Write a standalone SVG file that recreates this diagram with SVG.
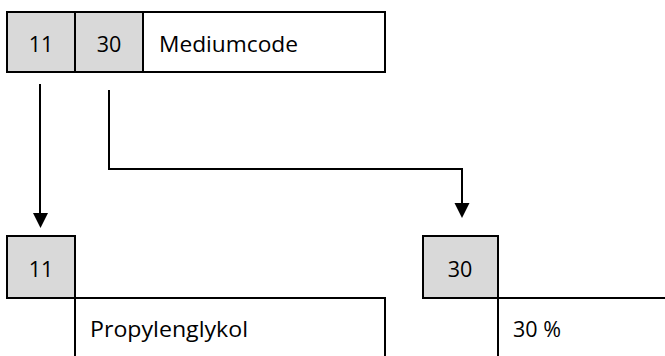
<svg xmlns="http://www.w3.org/2000/svg" width="665" height="356" viewBox="0 0 665 356">
<defs>
<style>
.box{stroke:#000;stroke-width:2}
.key{fill:#d9d9d9}
.plain{fill:#fff}
.open{fill:none;stroke:#000;stroke-width:2}
text{font-family:"Open Sans","Liberation Sans",sans-serif;font-size:21.5px;fill:#000}
.c{text-anchor:middle}
.conn{fill:none;stroke:#000;stroke-width:2}
</style>
</defs>
<rect width="665" height="356" fill="#fff"/>
<g id="record">
<rect class="box key" x="7" y="12" width="68" height="60"/>
<rect class="box key" x="75" y="12" width="68" height="60"/>
<rect class="box plain" x="143" y="12" width="242" height="60"/>
<text class="c" x="41" y="52">11</text>
<text class="c" x="109" y="52">30</text>
<text x="159" y="52" textLength="139" lengthAdjust="spacingAndGlyphs">Mediumcode</text>
</g>
<g id="node11">
<rect class="box key" x="7" y="236" width="68" height="62"/>
<text class="c" x="41" y="277">11</text>
</g>
<g id="propylenglykol">
<path class="open" d="M75,357 V298 H385 V357"/>
<text x="90" y="337" textLength="158" lengthAdjust="spacingAndGlyphs">Propylenglykol</text>
</g>
<g id="node30">
<rect class="box key" x="423" y="236" width="75" height="62"/>
<text class="c" x="460" y="277">30</text>
</g>
<g id="percent">
<path class="open" d="M498,357 V298 H666"/>
<text x="513" y="337">30 %</text>
</g>
<g id="connectors">
<path class="conn" d="M40,84 V213"/>
<path d="M33,213 L48,213 L40.5,228 Z" fill="#000"/>
<path class="conn" d="M109,90 V169 H462 V203"/>
<path d="M454.5,203 L469.5,203 L462,218 Z" fill="#000"/>
</g>
</svg>
